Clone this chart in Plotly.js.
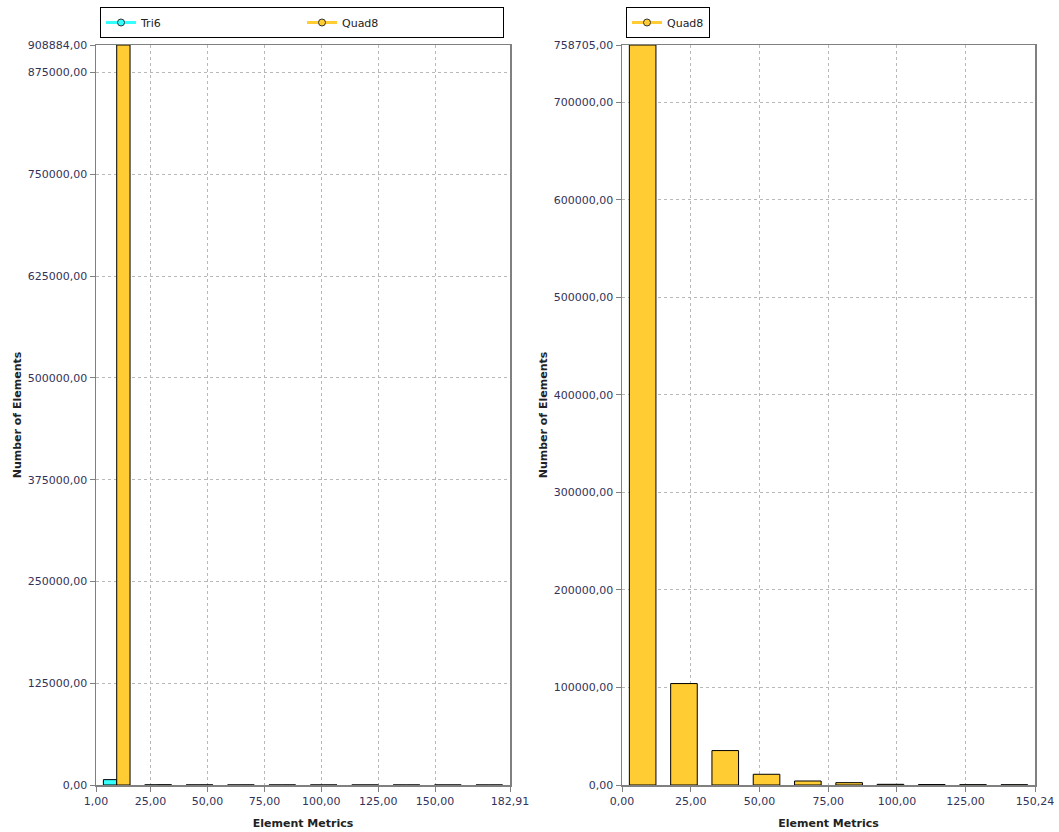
<!DOCTYPE html>
<html>
<head>
<meta charset="utf-8">
<script src="https://cdn.plot.ly/plotly-3.0.1.min.js"></script>
<style>html,body{margin:0;padding:0;background:#fff;}#chart{width:1059px;height:832px;}</style>
</head>
<body>
<div id="chart"></div>
<script>
// ---- Left chart data (Tri6 + Quad8) ----
var leftBinCenters = [10.10, 28.29, 46.48, 64.67, 82.86, 101.05, 119.24, 137.43, 155.62, 173.81];
var tri6Counts     = [6600, 150, 80, 40, 30, 20, 15, 10, 8, 5];
var quad8LeftCounts = [908884, 300, 150, 90, 60, 40, 30, 20, 15, 10];
var leftXTicks = [1.00, 25, 50, 75, 100, 125, 150, 182.91];
var leftYTicks = [0, 125000, 250000, 375000, 500000, 625000, 750000, 875000, 908884];

// ---- Right chart data (Quad8) ----
var rightBinCenters = [7.51, 22.54, 37.56, 52.58, 67.61, 82.63, 97.66, 112.68, 127.70, 142.73];
var quad8RightCounts = [758705, 104000, 35300, 11000, 4100, 2400, 700, 450, 300, 250];
var rightXTicks = [0, 25, 50, 75, 100, 125, 150.24];
var rightYTicks = [0, 100000, 200000, 300000, 400000, 500000, 600000, 700000, 758705];

function fmt(v){ return v.toFixed(2).replace('.', ','); }

var FONT = 'DejaVu Sans';
var TICKCOL = '#33335a';
var CYAN = '#33ffff';
var GOLD = '#ffcc33';

var traces = [
  {type:'bar', x:leftBinCenters, y:tri6Counts, xaxis:'x', yaxis:'y', showlegend:false,
   marker:{color:CYAN, line:{color:'#000', width:1}}, name:'Tri6'},
  {type:'bar', x:leftBinCenters, y:quad8LeftCounts, xaxis:'x', yaxis:'y', showlegend:false,
   marker:{color:GOLD, line:{color:'#000', width:1}}, name:'Quad8'},
  {type:'bar', x:rightBinCenters, y:quad8RightCounts, xaxis:'x2', yaxis:'y2', showlegend:false,
   marker:{color:GOLD, line:{color:'#000', width:1}}, name:'Quad8'},
  // legend entries
  {type:'scatter', mode:'lines+markers', x:[null], y:[null], xaxis:'x', yaxis:'y', name:'Tri6',
   legend:'legend', line:{color:CYAN, width:3}, marker:{color:CYAN, size:7, line:{color:'#333', width:1}}},
  {type:'scatter', mode:'lines+markers', x:[null], y:[null], xaxis:'x', yaxis:'y', name:'Quad8',
   legend:'legend', line:{color:GOLD, width:3}, marker:{color:GOLD, size:7, line:{color:'#333', width:1}}},
  {type:'scatter', mode:'lines+markers', x:[null], y:[null], xaxis:'x2', yaxis:'y2', name:'Quad8',
   legend:'legend2', line:{color:GOLD, width:3}, marker:{color:GOLD, size:7, line:{color:'#333', width:1}}}
];

function xax(domain, ticks, range, anchor){
  return {domain:domain, range:range, anchor:anchor, tickmode:'array', tickvals:ticks, ticktext:ticks.map(fmt),
    showgrid:true, gridcolor:'#b8b8b8', griddash:'3px,3px', gridwidth:1,
    showline:true, linecolor:'#808080', linewidth:1.5, mirror:true,
    ticks:'outside', ticklen:5, tickcolor:'#808080', zeroline:false,
    tickfont:{family:FONT, size:11, color:TICKCOL}, automargin:false,
    title:{text:'<b>Element Metrics</b>', font:{family:FONT, size:11, color:'#222'}, standoff:12}};
}
function yax(domain, ticks, range, anchor){
  return {domain:domain, range:range, anchor:anchor, tickmode:'array', tickvals:ticks, ticktext:ticks.map(fmt),
    showgrid:true, gridcolor:'#b8b8b8', griddash:'3px,3px', gridwidth:1,
    showline:true, linecolor:'#808080', linewidth:1.5, mirror:true,
    ticks:'outside', ticklen:5, tickcolor:'#808080', zeroline:false,
    tickfont:{family:FONT, size:11, color:TICKCOL}, automargin:false,
    title:{text:'<b>Number of Elements</b>', font:{family:FONT, size:11, color:'#222'}, standoff:4}};
}

var yDom = [47/832, 787/832];
var layout = {
  width:1059, height:832,
  margin:{l:0, r:0, t:0, b:0},
  paper_bgcolor:'#fff', plot_bgcolor:'#fff',
  barmode:'group', bargap:0.356, bargroupgap:0,
  font:{family:FONT, size:11, color:'#222'},
  xaxis: xax([96/1059, 510/1059], leftXTicks, [1, 182.91], 'y'),
  yaxis: yax(yDom, leftYTicks, [0, 908884], 'x'),
  xaxis2: xax([622/1059, 1035/1059], rightXTicks, [0, 150.24], 'y2'),
  yaxis2: yax(yDom, rightYTicks, [0, 758705], 'x2'),
  legend:{orientation:'h', x:100/1059, y:1-7/832, xanchor:'left', yanchor:'top',
    bordercolor:'#000', borderwidth:1, bgcolor:'#fff', entrywidth:156, entrywidthmode:'pixels',
    font:{family:FONT, size:11, color:'#222'}, tracegroupgap:0},
  legend2:{orientation:'h', x:626/1059, y:1-7/832, xanchor:'left', yanchor:'top',
    bordercolor:'#000', borderwidth:1, bgcolor:'#fff',
    font:{family:FONT, size:11, color:'#222'}}
};

Plotly.newPlot('chart', traces, layout, {staticPlot:true, displayModeBar:false});
</script>
</body>
</html>
